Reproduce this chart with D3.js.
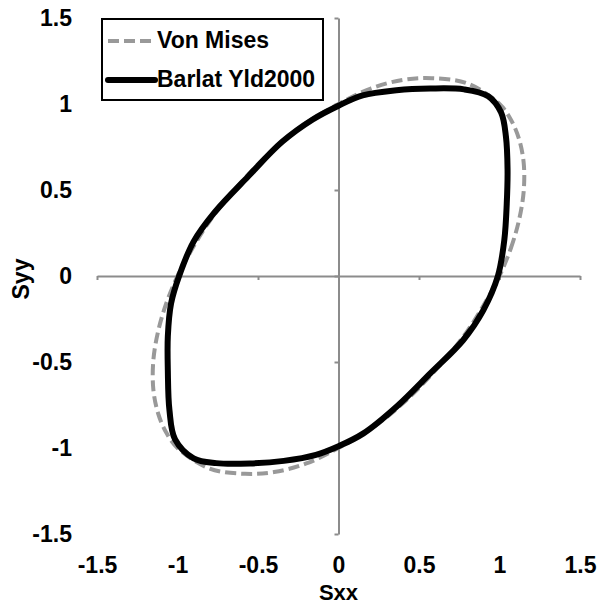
<!DOCTYPE html>
<html>
<head>
<meta charset="utf-8">
<script src="https://cdn.jsdelivr.net/npm/d3@7"></script>
<style>
  html, body { margin: 0; padding: 0; background: #fff; }
  svg text { font-family: "Liberation Sans", Arial, sans-serif; font-weight: bold; fill: #000; }
</style>
</head>
<body>
<svg id="chart" width="600" height="605"></svg>
<script>
// Yield loci in the normalised (Sxx, Syy) stress plane
const tickValues = [-1.5, -1, -0.5, 0, 0.5, 1, 1.5];
const tickLabels = ["-1.5", "-1", "-0.5", "0", "0.5", "1", "1.5"];
const seriesNames = ["Von Mises", "Barlat Yld2000"];

// Von Mises locus
const vonMisesSxx = [1.00, 1.07, 1.12, 1.15, 1.15, 1.12, 1.07, 1.00, 0.80, 0.58, 0.40, 0.20, 0.00,
  -0.20, -0.40, -0.60, -0.80, -0.95, -1.00, -1.07, -1.12, -1.15, -1.15, -1.12, -1.07, -1.00,
  -0.80, -0.58, -0.40, -0.20, 0.00, 0.20, 0.40, 0.60, 0.80, 0.95];
const vonMisesSyy = [0.00, 0.16, 0.32, 0.49, 0.66, 0.80, 0.91, 1.00, 1.12, 1.15, 1.14, 1.09, 1.00,
  0.89, 0.74, 0.55, 0.32, 0.09, 0.00, -0.16, -0.32, -0.49, -0.66, -0.80, -0.91, -1.00,
  -1.12, -1.15, -1.14, -1.09, -1.00, -0.89, -0.74, -0.55, -0.32, -0.09];

// Barlat Yld2000 locus
const barlatSxx = [0.99, 1.03, 1.045, 1.05, 1.04, 1.01, 0.93, 0.78, 0.57, 0.36, 0.15, 0.00,
  -0.16, -0.35, -0.56, -0.77, -0.90, -0.99, -1.04, -1.06, -1.06, -1.05, -1.015, -0.90,
  -0.76, -0.55, -0.34, -0.14, 0.00, 0.155, 0.36, 0.57, 0.775, 0.90];
const barlatSyy = [0.00, 0.21, 0.42, 0.62, 0.81, 0.95, 1.045, 1.085, 1.09, 1.08, 1.05, 0.99,
  0.91, 0.78, 0.58, 0.37, 0.20, 0.00, -0.16, -0.35, -0.55, -0.78, -0.95, -1.06,
  -1.088, -1.09, -1.075, -1.04, -0.99, -0.915, -0.76, -0.566, -0.372, -0.198];

const svg = d3.select("#chart");
const x = d3.scaleLinear().domain([-1.5, 1.5]).range([97, 580]);
const y = d3.scaleLinear().domain([-1.5, 1.5]).range([534, 18]);
const fmt = d => tickLabels[tickValues.indexOf(d)];

// Axes crossing at the origin, ticks only (labels go on the outer edge)
const xAxis = svg.append("g").attr("transform", `translate(0,${y(0)})`)
  .call(d3.axisBottom(x).tickValues(tickValues).tickSize(4).tickSizeOuter(0).tickFormat(""));
const yAxis = svg.append("g").attr("transform", `translate(${x(0)},0)`)
  .call(d3.axisLeft(y).tickValues(tickValues).tickSize(4).tickSizeOuter(0).tickFormat(""));
[xAxis, yAxis].forEach(g => {
  g.selectAll("path.domain").attr("stroke", "#8c8c8c").attr("stroke-width", 2);
  g.selectAll(".tick line").attr("stroke", "#8c8c8c").attr("stroke-width", 2);
});

// Tick labels along the bottom and left edges
const xLabels = svg.append("g").attr("transform", "translate(0,557)")
  .call(d3.axisBottom(x).tickValues(tickValues).tickSize(0).tickPadding(0).tickFormat(fmt));
const yLabels = svg.append("g").attr("transform", "translate(72,0)")
  .call(d3.axisLeft(y).tickValues(tickValues).tickSize(0).tickPadding(0).tickFormat(fmt));
[xLabels, yLabels].forEach(g => {
  g.select("path.domain").remove();
  g.selectAll("text").attr("font-size", 23).attr("fill", "#000")
    .style("font-family", "'Liberation Sans', Arial, sans-serif").style("font-weight", "bold");
});

// Axis titles
svg.append("text").attr("x", x(0)).attr("y", 600).attr("text-anchor", "middle")
  .attr("font-size", 22).text("Sxx");
svg.append("text").attr("transform", `translate(29,${y(0) + 3}) rotate(-90)`)
  .attr("text-anchor", "middle").attr("font-size", 23).text("Syy");

// Curves
const line = d3.line().x(d => x(d[0])).y(d => y(d[1])).curve(d3.curveCatmullRomClosed.alpha(0.5));
const vonMises = vonMisesSxx.map((v, i) => [v, vonMisesSyy[i]]);
const barlat = barlatSxx.map((v, i) => [v, barlatSyy[i]]);

const dashStyle = { stroke: "#999999", width: 4, dash: "11,5" };
svg.append("path").datum(vonMises).attr("d", line)
  .attr("fill", "none").attr("stroke", dashStyle.stroke).attr("stroke-width", dashStyle.width)
  .attr("stroke-dasharray", dashStyle.dash);
svg.append("path").datum(barlat).attr("d", line)
  .attr("fill", "none").attr("stroke", "#000").attr("stroke-width", 6).attr("stroke-linejoin", "round");

// Legend
const legend = svg.append("g");
legend.append("rect").attr("x", 102).attr("y", 19).attr("width", 221).attr("height", 81)
  .attr("fill", "#fff").attr("stroke", "#000").attr("stroke-width", 2);
legend.append("line").attr("x1", 108).attr("x2", 155).attr("y1", 41).attr("y2", 41)
  .attr("stroke", dashStyle.stroke).attr("stroke-width", dashStyle.width).attr("stroke-dasharray", dashStyle.dash);
legend.append("line").attr("x1", 108).attr("x2", 155).attr("y1", 80).attr("y2", 80)
  .attr("stroke", "#000").attr("stroke-width", 6).attr("stroke-linecap", "round");
legend.append("text").attr("x", 157).attr("y", 48).attr("font-size", 23).text(seriesNames[0]);
legend.append("text").attr("x", 157).attr("y", 87).attr("font-size", 23).text(seriesNames[1]);
</script>
</body>
</html>
